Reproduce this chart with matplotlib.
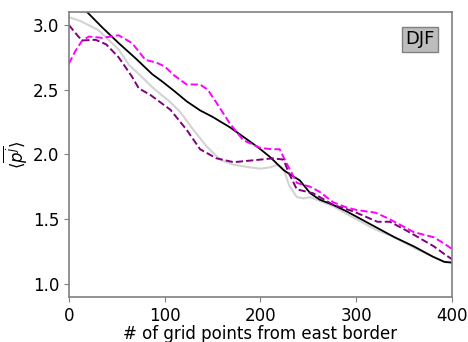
import matplotlib
matplotlib.use("Agg")
import matplotlib.pyplot as plt
import numpy as np

# gray (reference) line
x_gray = [0, 12, 31, 52, 63, 76, 87, 95, 105, 116, 130, 144, 158, 172, 189, 200, 210, 218, 224, 230, 238, 245, 252, 262, 276, 290, 305, 320, 340, 360, 380, 392, 400]
y_gray = [3.06, 3.03, 2.96, 2.81, 2.69, 2.60, 2.52, 2.47, 2.41, 2.33, 2.19, 2.06, 1.96, 1.92, 1.90, 1.89, 1.90, 1.92, 1.89, 1.76, 1.67, 1.66, 1.67, 1.64, 1.60, 1.54, 1.48, 1.42, 1.36, 1.28, 1.21, 1.17, 1.16]

# black line
x_black = [0, 19, 35, 52, 70, 87, 98, 110, 123, 137, 150, 168, 189, 200, 210, 224, 232, 241, 252, 262, 276, 290, 305, 325, 340, 360, 380, 392, 400]
y_black = [3.22, 3.10, 2.98, 2.86, 2.74, 2.62, 2.56, 2.49, 2.41, 2.34, 2.29, 2.21, 2.10, 2.04, 1.98, 1.88, 1.84, 1.80, 1.70, 1.65, 1.61, 1.56, 1.50, 1.42, 1.36, 1.29, 1.21, 1.17, 1.165]

# magenta dashed
x_mag = [0, 7, 14, 21, 35, 52, 66, 80, 91, 100, 110, 123, 137, 145, 154, 168, 182, 200, 212, 220, 226, 238, 252, 262, 276, 290, 301, 320, 332, 345, 360, 381, 392, 400]
y_mag = [2.70, 2.80, 2.88, 2.91, 2.90, 2.92, 2.86, 2.73, 2.71, 2.68, 2.61, 2.54, 2.54, 2.50, 2.40, 2.24, 2.11, 2.05, 2.04, 2.04, 1.95, 1.78, 1.75, 1.71, 1.63, 1.59, 1.57, 1.55, 1.51, 1.46, 1.40, 1.36, 1.31, 1.27]

# purple dashed
x_pur = [0, 10, 14, 28, 39, 52, 66, 73, 85, 96, 106, 123, 137, 154, 172, 186, 200, 213, 224, 230, 238, 255, 276, 297, 322, 335, 348, 360, 381, 392, 400]
y_pur = [3.00, 2.91, 2.88, 2.885, 2.85, 2.75, 2.60, 2.51, 2.46, 2.40, 2.345, 2.19, 2.04, 1.97, 1.94, 1.95, 1.96, 1.97, 1.96, 1.85, 1.73, 1.70, 1.61, 1.56, 1.48, 1.48, 1.43, 1.38, 1.29, 1.23, 1.19]

xticks = [0, 100, 200, 300, 400]
yticks = [1.0, 1.5, 2.0, 2.5, 3.0]

fig = plt.figure(figsize=(4.68, 3.42), dpi=100)
ax = fig.add_axes([0.147, 0.132, 0.819, 0.833])

ax.plot(x_gray, y_gray, color='#d3d3d3', lw=1.5)
ax.plot(x_black, y_black, color='black', lw=1.3)
ax.plot(x_mag, y_mag, color='magenta', lw=1.4, ls='--')
ax.plot(x_pur, y_pur, color='purple', lw=1.4, ls='--')

ax.set_xlim(0, 400)
ax.set_ylim(0.9, 3.1)
ax.set_xticks(xticks)
ax.set_yticks(yticks)
ax.tick_params(labelsize=12, color='gray')
for s in ax.spines.values():
    s.set_color('gray')
    s.set_linewidth(1.2)

ax.set_xlabel('# of grid points from east border', fontsize=12, labelpad=0.5)
ax.set_ylabel(r'$\langle\overline{p^j}\rangle$', fontsize=12, labelpad=2)

ax.text(0.955, 0.935, 'DJF', transform=ax.transAxes, ha='right', va='top', fontsize=13,
        bbox=dict(boxstyle='square,pad=0.2', facecolor='#bdbdbd', edgecolor='gray'))

fig.savefig('out.png', dpi=100)
